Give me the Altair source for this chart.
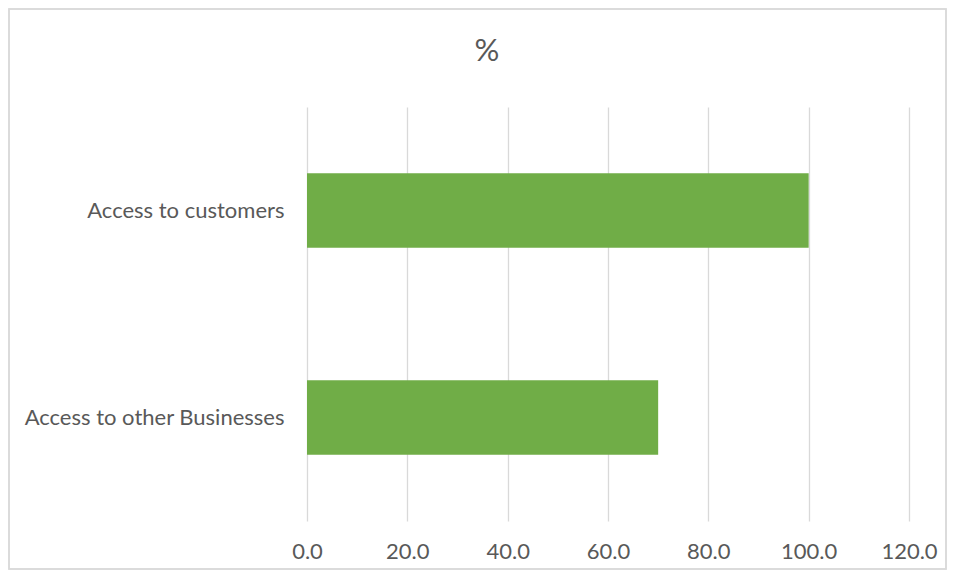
import altair as alt
import pandas as pd

categories = ["Access to customers", "Access to other Businesses"]
values = [100.0, 70.0]
x_ticks = [0, 20, 40, 60, 80, 100, 120]

df = pd.DataFrame({"category": categories, "value": values})

TEXT = "#595959"
GRID = "#D9D9D9"
GREEN = "#70AD47"
FONT = "Lato"

W, H = 602, 414

bars = alt.Chart(df).mark_bar(color=GREEN).encode(
    x=alt.X("value:Q",
            scale=alt.Scale(domain=[0, 120], nice=False),
            axis=alt.Axis(values=x_ticks, format=".1f", title=None,
                          grid=True, gridColor=GRID, gridWidth=1.3,
                          domain=False, ticks=False,
                          labelFlush=False, labelOverlap=False,
                          labelPadding=20, labelFontSize=22,
                          labelColor=TEXT, labelFont=FONT)),
    y=alt.Y("category:N", sort=categories,
            scale=alt.Scale(paddingInner=0.64, paddingOuter=0.32),
            axis=alt.Axis(title=None, domain=False, ticks=False, grid=False,
                          labelPadding=23, labelFontSize=22,
                          labelColor=TEXT, labelFont=FONT,
                          labelLimit=400)),
)

border = alt.Chart(df).mark_rect(fill=None, stroke=GRID, strokeWidth=1.5).encode(
    x=alt.value(-298), x2=alt.value(W + 37),
    y=alt.value(-98), y2=alt.value(H + 48),
)

chart = alt.layer(border, bars).properties(
    width=W, height=H,
    title=alt.TitleParams("%", fontSize=31, font=FONT, fontWeight="normal",
                          color=TEXT, anchor="middle", frame="group",
                          dx=-121, offset=-60),
    autosize=alt.AutoSizeParams(type="none"),
    padding={"left": 299, "top": 99, "right": 38, "bottom": 50},
).configure(background="white").configure_view(stroke="transparent", strokeWidth=0)

chart.save("out.html", embed_options={"renderer": "svg", "actions": False})
